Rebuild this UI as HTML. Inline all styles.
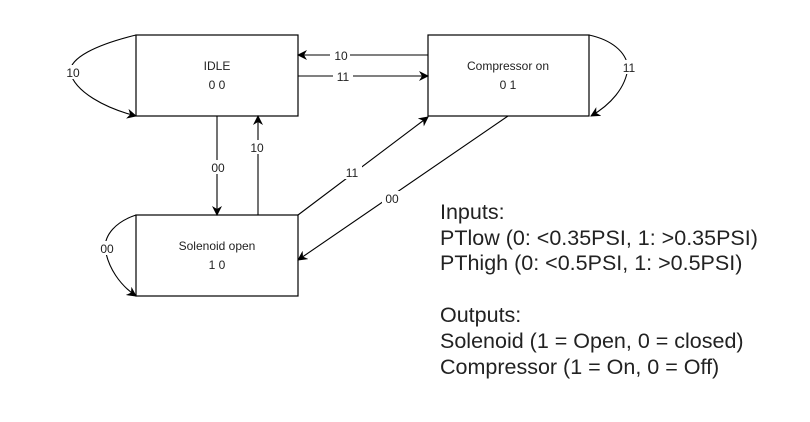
<!DOCTYPE html>
<html><head><meta charset="utf-8"><style>
html,body{margin:0;padding:0;background:#fff;width:810px;height:422px;overflow:hidden}
svg{display:block}
text{font-family:"Liberation Sans",Arial,sans-serif;fill:#222}
</style></head><body>
<svg width="810" height="422" viewBox="0 0 810 422">
<defs>
<marker id="a" markerWidth="10" markerHeight="10" refX="9" refY="5" orient="auto" markerUnits="userSpaceOnUse">
<path d="M0,0 L10,5 L0,10 L3,5 Z" fill="#000"/>
</marker>
</defs>
<g fill="#fff" stroke="#000" stroke-width="1.2">
<rect x="136" y="35" width="162" height="81"/>
<rect x="136" y="215" width="162" height="81"/>
<rect x="428" y="35" width="161" height="81"/>
</g>
<g font-size="12" text-anchor="middle">
<text x="217" y="70">IDLE</text><text x="217" y="89">0 0</text>
<text x="217" y="250">Solenoid open</text><text x="217" y="269">1 0</text>
<text x="508" y="70">Compressor on</text><text x="508" y="89">0 1</text>
</g>
<g fill="none" stroke="#000" stroke-width="1.1">
<path d="M428,55 L298,55" marker-end="url(#a)"/>
<path d="M298,76 L428,76" marker-end="url(#a)"/>
<path d="M217,116 L217,215" marker-end="url(#a)"/>
<path d="M258,215 L258,116" marker-end="url(#a)"/>
<path d="M298,215 L428,117" marker-end="url(#a)"/>
<path d="M508,116 L298,260" marker-end="url(#a)"/>
<path d="M136,35 C95,45 70,58 70,72 C75,92 105,108 136,116" marker-end="url(#a)"/>
<path d="M136,215 C115,222 105,235 105,248 C108,268 120,285 136,296" marker-end="url(#a)"/>
<path d="M589,35 C612,40 626,52 628,67 C626,88 610,105 591,116" marker-end="url(#a)"/>
</g>
<g font-size="12" text-anchor="middle">
<rect x="330" y="48" width="20" height="13" fill="#fff"/><text x="341" y="60">10</text>
<rect x="333" y="69" width="20" height="13" fill="#fff"/><text x="343" y="81">11</text>
<rect x="208" y="160" width="20" height="14" fill="#fff"/><text x="218" y="172">00</text>
<rect x="248" y="140" width="20" height="14" fill="#fff"/><text x="257" y="152">10</text>
<rect x="342" y="165" width="20" height="14" fill="#fff"/><text x="352" y="177">11</text>
<rect x="382" y="191" width="20" height="14" fill="#fff"/><text x="392" y="203">00</text>
<rect x="63" y="65" width="20" height="14" fill="#fff"/><text x="73" y="77">10</text>
<rect x="97" y="241" width="20" height="14" fill="#fff"/><text x="107" y="253">00</text>
<rect x="619" y="60" width="20" height="14" fill="#fff"/><text x="629" y="72">11</text>
</g>
<g font-size="21.5">
<text x="440" y="219">Inputs:</text>
<text x="440" y="245">PTlow (0: &lt;0.35PSI, 1: &gt;0.35PSI)</text>
<text x="440" y="270">PThigh (0: &lt;0.5PSI, 1: &gt;0.5PSI)</text>
<text x="440" y="322">Outputs:</text>
<text x="440" y="348">Solenoid (1 = Open, 0 = closed)</text>
<text x="440" y="374">Compressor (1 = On, 0 = Off)</text>
</g>
</svg>
</body></html>
